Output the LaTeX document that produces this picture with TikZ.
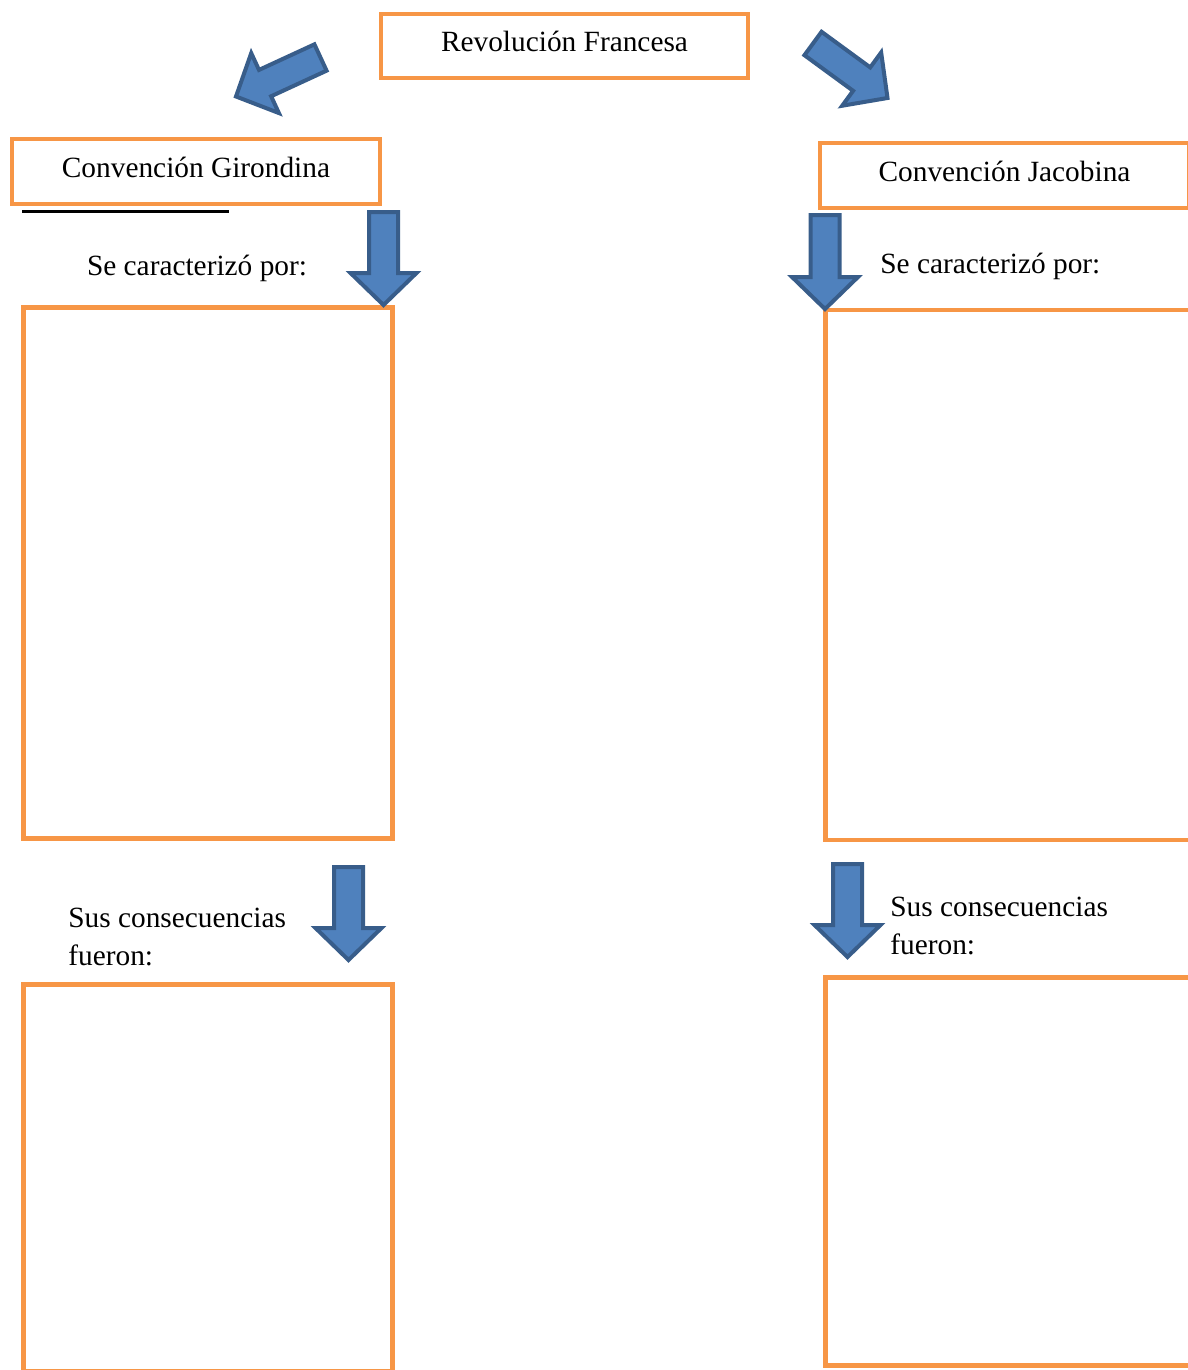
\documentclass[tikz,border=0pt]{standalone}
\usepackage{fontspec}
\setmainfont{Liberation Serif}
\usepackage{xcolor}
\usetikzlibrary{calc}
\definecolor{ofcOrange}{RGB}{247,150,70}
\definecolor{ofcBlue}{RGB}{79,129,189}
\definecolor{ofcBlueDark}{RGB}{56,93,138}

% block arrow from tail #1 to tip #2
\newcommand{\blockarrow}[2]{%
  \coordinate (#1#2) at ($(#2)!0.64cm!(#1)$);
  \draw[blkarrow] ($(#1)!0.29cm!90:(#2)$) -- ($(#1#2)!0.29cm!90:(#2)$) -- ($(#1#2)!0.66cm!90:(#2)$)
    -- (#2) -- ($(#1#2)!0.66cm!-90:(#2)$) -- ($(#1#2)!0.29cm!-90:(#2)$) -- ($(#1)!0.29cm!-90:(#2)$) -- cycle;}

\begin{document}
\begin{tikzpicture}[x=0.2mm,y=-0.2mm,
  every node/.style={font=\fontsize{16.7}{21.6}\selectfont},
  obox/.style={draw=ofcOrange,line width=0.95mm,rectangle,inner sep=0pt,text height=10pt,text depth=3.7pt},
  blkarrow/.style={draw=ofcBlueDark,fill=ofcBlue,line width=0.8mm,line join=miter}]
  \clip (0,0) rectangle (1188,1370);
  % titles
  \node[obox,minimum width=7.34cm,minimum height=1.28cm] (rf) at (564.5,46) {Revolución Francesa};
  \node[obox,minimum width=7.36cm,minimum height=1.30cm] (gir) at (196,171.5) {Convención Girondina};
  \node[obox,minimum width=7.38cm,minimum height=1.30cm] (jac) at (1004.5,175.5) {Convención Jacobina};
  \draw[line width=0.6mm] (22,211) -- (229,211);
  % labels
  \node[anchor=base,inner sep=0pt] (gcar) at (197,275.5) {Se caracterizó por:};
  \node[anchor=base west,inner sep=0pt] (jcar) at (880,273.5) {Se caracterizó por:};
  \node[anchor=north west,align=left,inner sep=0pt] (gcons) at (68,907.5) {Sus consecuencias\\fueron:};
  \node[anchor=north west,align=left,inner sep=0pt] (jcons) at (890,896.5) {Sus consecuencias\\fueron:};
  % empty boxes
  \node[obox,minimum width=7.38cm,minimum height=10.62cm] (gcarbox) at (208,573) {};
  \node[obox,minimum width=7.38cm,minimum height=10.60cm] (jcarbox) at (1010,575) {};
  \node[obox,minimum width=7.38cm,minimum height=7.75cm] (gconsbox) at (208,1178) {};
  \node[obox,minimum width=7.38cm,minimum height=7.76cm] (jconsbox) at (1010,1171.75) {};
  % arrows
  \coordinate (a1) at (320.5,57.5);  \coordinate (b1) at (236,96.5);
  \coordinate (a2) at (813,43.5);    \coordinate (b2) at (887.5,98);
  \coordinate (a3) at (383.5,212);   \coordinate (b3) at (383.5,305);
  \coordinate (a4) at (825,215);     \coordinate (b4) at (825,309);
  \coordinate (a5) at (348.5,867);   \coordinate (b5) at (348.5,960);
  \coordinate (a6) at (847.5,864);   \coordinate (b6) at (847.5,957);
  \blockarrow{a1}{b1}
  \blockarrow{a2}{b2}
  \blockarrow{a3}{b3}
  \blockarrow{a4}{b4}
  \blockarrow{a5}{b5}
  \blockarrow{a6}{b6}
\end{tikzpicture}
\end{document}
